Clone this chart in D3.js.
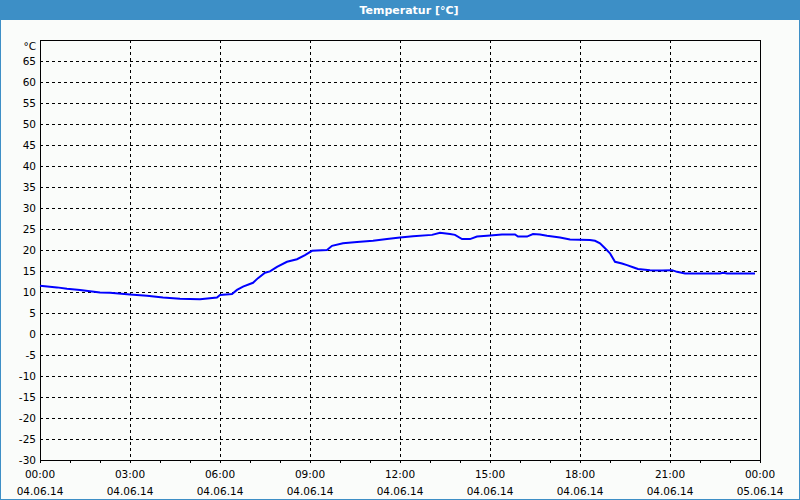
<!DOCTYPE html>
<html>
<head>
<meta charset="utf-8">
<script src="https://cdn.jsdelivr.net/npm/d3@7"></script>
<style>
  body { margin: 0; background: #fff; }
  svg { display: block; }
  text { font-family: "DejaVu Sans", Tahoma, sans-serif; font-size: 10.5px; fill: #000; }
</style>
</head>
<body>
<div id="chart"></div>
<script>
// readings, minutes since 04.06.14 00:00
const minutes = [0, 34, 54, 80, 120, 140, 180, 214, 246, 280, 320, 354, 360, 384, 394, 406,
  426, 436, 450, 460, 474, 494, 514, 530, 544, 574, 584, 606, 634, 666, 694, 720, 746, 784,
  800, 820, 830, 844, 860, 874, 894, 924, 950, 956, 974, 986, 1000, 1014, 1040, 1060, 1100,
  1110, 1120, 1130, 1140, 1150, 1164, 1174, 1186, 1196, 1220, 1244, 1264, 1274, 1290, 1360,
  1366, 1374, 1430];
const temps = [11.5, 11.1, 10.8, 10.5, 9.9, 9.8, 9.4, 9.1, 8.7, 8.4, 8.3, 8.7, 9.3, 9.5, 10.5, 11.3,
  12.2, 13.3, 14.6, 14.9, 16.0, 17.2, 17.8, 18.8, 19.8, 20.0, 21.0, 21.6, 21.9, 22.2, 22.6, 23.0, 23.3, 23.6,
  24.1, 23.8, 23.6, 22.6, 22.6, 23.2, 23.4, 23.7, 23.7, 23.2, 23.2, 23.8, 23.7, 23.4, 23.0, 22.5, 22.4,
  22.2, 21.6, 20.4, 19.2, 17.2, 16.8, 16.4, 15.9, 15.5, 15.2, 15.1, 15.2, 14.8, 14.4, 14.4,
  14.6, 14.4, 14.4];

const yTicks = [-30, -25, -20, -15, -10, -5, 0, 5, 10, 15, 20, 25, 30, 35, 40, 45, 50, 55, 60, 65];
const timeLabels = ["00:00", "03:00", "06:00", "09:00", "12:00", "15:00", "18:00", "21:00", "00:00"];
const dateLabels = ["04.06.14", "04.06.14", "04.06.14", "04.06.14", "04.06.14", "04.06.14", "04.06.14", "04.06.14", "05.06.14"];
const title = "Temperatur [°C]";
const unit = "°C";

const width = 800, height = 500;
const plot = { left: 40, right: 760, top: 40, bottom: 460 };

const svg = d3.select("#chart").append("svg")
  .attr("width", width)
  .attr("height", height);

// window frame + title bar
svg.append("rect")
  .attr("x", 0).attr("y", 0).attr("width", width).attr("height", height)
  .attr("fill", "#fafcfa");
svg.append("rect")
  .attr("x", 0).attr("y", 0).attr("width", width).attr("height", 20)
  .attr("fill", "#3d8fc6");
svg.append("rect")
  .attr("x", 0.5).attr("y", 0.5).attr("width", width - 1).attr("height", height - 1)
  .attr("fill", "none").attr("stroke", "#3d8fc6").attr("stroke-width", 1);
svg.append("text")
  .attr("x", 409).attr("y", 14)
  .attr("text-anchor", "middle")
  .style("fill", "#fff").style("font-weight", "bold").style("font-size", "11px")
  .text(title);

const x = d3.scaleLinear().domain([0, 1440]).range([plot.left, plot.right]);
const y = d3.scaleLinear().domain([-30, 70]).range([plot.bottom, plot.top]);

// grid
const grid = svg.append("g")
  .attr("stroke", "#000")
  .attr("stroke-dasharray", "3,3")
  .attr("shape-rendering", "crispEdges");
grid.selectAll("line.h")
  .data(yTicks.filter(v => v > -30))
  .enter().append("line")
  .attr("class", "h")
  .attr("x1", plot.left).attr("x2", plot.right)
  .attr("y1", d => y(d)).attr("y2", d => y(d));
grid.selectAll("line.v")
  .data(d3.range(180, 1440, 180))
  .enter().append("line")
  .attr("class", "v")
  .attr("x1", d => x(d)).attr("x2", d => x(d))
  .attr("y1", plot.top).attr("y2", plot.bottom);

// frame
svg.append("rect")
  .attr("x", plot.left).attr("y", plot.top)
  .attr("width", plot.right - plot.left).attr("height", plot.bottom - plot.top)
  .attr("fill", "none").attr("stroke", "#000")
  .attr("shape-rendering", "crispEdges");

// y labels
svg.selectAll("text.ylab")
  .data(yTicks)
  .enter().append("text")
  .attr("class", "ylab")
  .attr("x", 36)
  .attr("y", d => y(d) + 4)
  .attr("text-anchor", "end")
  .text(d => d);
svg.append("text")
  .attr("x", 36).attr("y", 50)
  .attr("text-anchor", "end")
  .text(unit);

// x axis: hourly ticks
const xAxis = d3.axisBottom(x)
  .tickValues(d3.range(0, 1441, 60))
  .tickSize(3)
  .tickFormat("");
svg.append("g")
  .attr("transform", `translate(0,${plot.bottom})`)
  .call(xAxis)
  .call(g => g.select(".domain").remove())
  .attr("shape-rendering", "crispEdges");

const xLab = svg.selectAll("g.xlab")
  .data(timeLabels)
  .enter().append("g")
  .attr("class", "xlab")
  .attr("transform", (d, i) => `translate(${x(i * 180)},0)`);
xLab.append("text")
  .attr("y", 478).attr("text-anchor", "middle")
  .text(d => d);
xLab.append("text")
  .attr("y", 495).attr("text-anchor", "middle")
  .text((d, i) => dateLabels[i]);

// temperature line
const line = d3.line()
  .x(d => x(d[0]))
  .y(d => y(d[1]));
svg.append("path")
  .datum(d3.zip(minutes, temps))
  .attr("d", line)
  .attr("fill", "none")
  .attr("stroke", "#0000ff")
  .attr("stroke-width", 2);
</script>
</body>
</html>
